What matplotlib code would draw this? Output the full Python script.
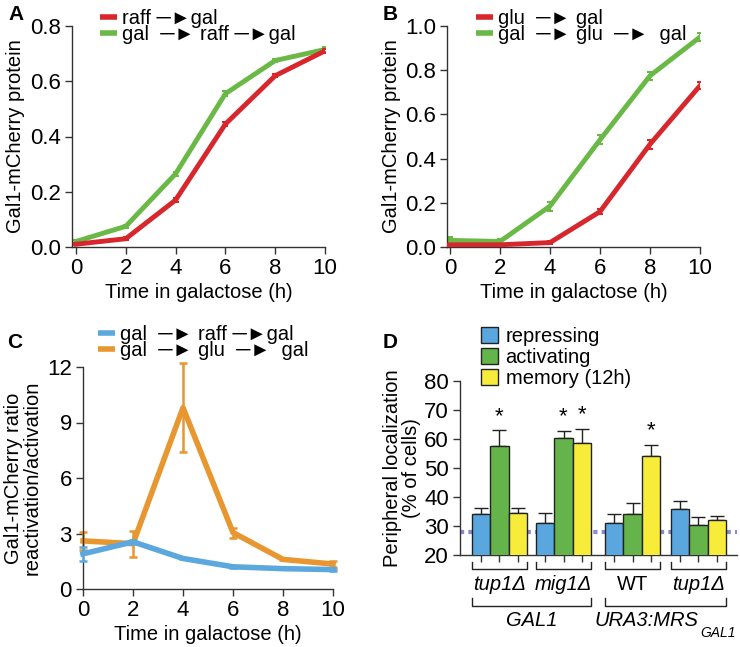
import matplotlib
matplotlib.use("Agg")
import matplotlib.pyplot as plt
import numpy as np

plt.rcParams["font.family"] = ["Liberation Sans", "DejaVu Sans"]
plt.rcParams["font.size"] = 14

W, H = 740, 647
ARROW = "\u2500\u25ba"

# panel A / B : Gal1-mCherry protein
TIME = [0, 2, 4, 6, 8, 10]
A_RAFF_GAL = [0.01, 0.03, 0.17, 0.445, 0.62, 0.71]
A_RAFF_GAL_ERR = [0.004, 0.005, 0.008, 0.008, 0.006, 0.008]
A_GAL_RAFF_GAL = [0.02, 0.075, 0.265, 0.555, 0.675, 0.715]
A_GAL_RAFF_GAL_ERR = [0.006, 0.005, 0.008, 0.008, 0.006, 0.01]

B_GLU_GAL = [0.01, 0.01, 0.02, 0.16, 0.465, 0.73]
B_GLU_GAL_ERR = [0.005, 0.005, 0.006, 0.012, 0.02, 0.015]
B_GAL_GLU_GAL = [0.03, 0.025, 0.185, 0.485, 0.775, 0.95]
B_GAL_GLU_GAL_ERR = [0.015, 0.01, 0.02, 0.02, 0.018, 0.02]

# panel C : reactivation/activation ratio
C_GAL_RAFF_GAL = [1.9, 2.55, 1.65, 1.2, 1.1, 1.05]
C_GAL_RAFF_GAL_ERR = [0.38, 0.1, 0.05, 0.04, 0.03, 0.05]
C_GAL_GLU_GAL = [2.6, 2.45, 9.8, 3.05, 1.6, 1.35]
C_GAL_GLU_GAL_ERR = [0.5, 0.7, 2.4, 0.27, 0.05, 0.15]

# panel D : peripheral localization
D_GROUPS = ["tup1\u0394", "mig1\u0394", "WT", "tup1\u0394"]
D_GROUP_ITALIC = [True, True, False, True]
D_CONDITIONS = ["repressing", "activating", "memory (12h)"]
D_VALUES = {
    "repressing": [34.0, 31.2, 31.2, 35.8],
    "activating": [57.7, 60.5, 34.0, 30.3],
    "memory (12h)": [34.6, 58.6, 54.2, 32.0],
}
D_ERR = {
    "repressing": [2.2, 3.3, 2.9, 2.7],
    "activating": [5.3, 2.3, 3.8, 2.8],
    "memory (12h)": [1.5, 5.0, 3.7, 1.4],
}
D_STARS = [(0, "activating"), (1, "activating"), (1, "memory (12h)"), (2, "memory (12h)")]
D_BASELINE = 28

RED, GREEN = "#d8262d", "#6ab845"
BLUE_C, ORANGE = "#5aa8de", "#e8962f"
D_COLORS = {"repressing": "#5aa7e0", "activating": "#64b44b", "memory (12h)": "#f8ec3a"}

TICK_FS = 16
LABEL_FS = 14.5


def px_axes(left, top, right, bottom):
    return fig.add_axes([left / W, 1 - bottom / H, (right - left) / W, (bottom - top) / H])


def style(ax):
    for s in ["top", "right"]:
        ax.spines[s].set_visible(False)
    for s in ["left", "bottom"]:
        ax.spines[s].set_linewidth(1.0)
        ax.spines[s].set_color("#333333")
    ax.tick_params(direction="out", length=5, width=1, color="#333333", pad=3, labelsize=TICK_FS)


def line_legend(ax, x0, rows, top_px, bottom_px, left_px, right_px):
    # rows: (color, label, handle center y px, baseline y px)
    to_ax_x = lambda p: (p - left_px) / (right_px - left_px)
    to_ax_y = lambda p: (bottom_px - p) / (bottom_px - top_px)
    for color, label, yc, yb in rows:
        ax.plot([to_ax_x(x0), to_ax_x(x0 + 17)], [to_ax_y(yc)] * 2, color=color, lw=4,
                solid_capstyle="butt", transform=ax.transAxes, clip_on=False)
        ax.text(to_ax_x(x0 + 22), to_ax_y(yb), label, transform=ax.transAxes,
                fontsize=LABEL_FS, va="baseline", ha="left")


def protein_panel(ax, s1, e1, s2, e2, ymax, yticks):
    ax.errorbar(TIME, s1, yerr=e1, color=RED, lw=3.5, capsize=2.5, capthick=1.5, elinewidth=1.5, zorder=3)
    ax.errorbar(TIME, s2, yerr=e2, color=GREEN, lw=3.5, capsize=2.5, capthick=1.5, elinewidth=1.5, zorder=2)
    ax.set_ylim(0, ymax)
    ax.set_yticks(yticks)
    ax.set_yticklabels([f"{v:.1f}" for v in yticks])
    ax.set_xticks(TIME)
    style(ax)
    ax.set_xlabel("Time in galactose (h)", fontsize=LABEL_FS)
    ax.xaxis.set_label_coords(0.5, -46 / 221)
    ax.xaxis.label.set_va("center")
    ax.set_ylabel("Gal1-mCherry protein", fontsize=LABEL_FS)
    ax.yaxis.set_label_coords(-56 / 253, 0.5)
    ax.yaxis.label.set_va("center")


fig = plt.figure(figsize=(W / 100, H / 100), dpi=100)

# ---- A
axA = px_axes(72, 26, 325, 247)
protein_panel(axA, A_RAFF_GAL, A_RAFF_GAL_ERR, A_GAL_RAFF_GAL, A_GAL_RAFF_GAL_ERR, 0.8, [0, 0.2, 0.4, 0.6, 0.8])
axA.set_xlim(-0.16, 10)
line_legend(axA, 100, [(RED, "raff " + ARROW + "gal", 17, 24),
                       (GREEN, "gal  " + ARROW + " raff " + ARROW + "gal", 33, 40.5)], 26, 247, 72, 325)

# ---- B
axB = px_axes(447, 26, 700, 247)
protein_panel(axB, B_GLU_GAL, B_GLU_GAL_ERR, B_GAL_GLU_GAL, B_GAL_GLU_GAL_ERR, 1.0, [0, 0.2, 0.4, 0.6, 0.8, 1.0])
axB.set_xlim(-0.12, 10)
line_legend(axB, 476, [(RED, "glu  " + ARROW + " gal", 17, 24),
                       (GREEN, "gal  " + ARROW + " glu  " + ARROW + "  gal", 33, 40.5)], 26, 247, 447, 700)

# ---- C
axC = px_axes(83, 367, 333, 589)
axC.errorbar(TIME, C_GAL_RAFF_GAL, yerr=C_GAL_RAFF_GAL_ERR, color=BLUE_C, lw=4, capsize=3,
             capthick=1.8, elinewidth=1.8, zorder=3, clip_on=False)
axC.errorbar(TIME, C_GAL_GLU_GAL, yerr=C_GAL_GLU_GAL_ERR, color=ORANGE, lw=4, capsize=3,
             capthick=1.8, elinewidth=1.8, zorder=2, clip_on=False)
axC.set_xlim(0, 10)
axC.set_ylim(0, 12)
axC.set_yticks([0, 3, 6, 9, 12])
axC.set_xticks(TIME)
style(axC)
axC.set_xlabel("Time in galactose (h)", fontsize=LABEL_FS)
axC.xaxis.set_label_coords(0.5, -45 / 222)
axC.xaxis.label.set_va("center")
axC.set_ylabel("Gal1-mCherry ratio\nreactivation/activation", fontsize=LABEL_FS, linespacing=1.0)
axC.yaxis.set_label_coords(-60 / 250, 0.5)
axC.yaxis.label.set_va("center")
line_legend(axC, 98, [(BLUE_C, "gal  " + ARROW + " raff " + ARROW + "gal", 333, 340),
                      (ORANGE, "gal  " + ARROW + " glu  " + ARROW + "  gal", 349, 356)], 367, 589, 83, 333)

# ---- D
axD = px_axes(460, 381, 737, 555)
group_pos = np.array([0, 3.48, 7.23, 10.8])
for k, cond in enumerate(D_CONDITIONS):
    xs = group_pos + k
    axD.bar(xs, D_VALUES[cond], width=1.0, bottom=0, color=D_COLORS[cond], edgecolor="#222222",
            linewidth=1.0, label=cond, zorder=3)
    axD.errorbar(xs, D_VALUES[cond], yerr=[np.zeros(4), D_ERR[cond]], fmt="none", ecolor="#222222",
                 elinewidth=1.0, capsize=5, capthick=1.0, zorder=2)
for g, cond in D_STARS:
    k = D_CONDITIONS.index(cond)
    axD.text(group_pos[g] + k, D_VALUES[cond][g] + D_ERR[cond][g] + 1.2, "*", ha="center",
             va="bottom", fontsize=16)
axD.axhline(D_BASELINE, color="#8a8ad0", lw=3, ls=(0, (1, 1)), zorder=1)
axD.set_xlim(-1.14, 13.9)
axD.set_ylim(20, 80)
axD.set_yticks([20, 30, 40, 50, 60, 70, 80])
axD.set_xticks(np.concatenate([group_pos + k for k in range(3)]))
axD.set_xticklabels([])
style(axD)
axD.set_ylabel("Peripheral localization\n(% of cells)", fontsize=LABEL_FS, linespacing=1.0)
axD.yaxis.set_label_coords(-58 / 277, 0.5)
axD.yaxis.label.set_va("center")
axD.legend(loc="upper left", bbox_to_anchor=((481 - 460) / 277, (555 - 327) / 174), frameon=False,
           fontsize=LABEL_FS, handlelength=0.82, handleheight=0.82, labelspacing=0.1, handletextpad=0.4,
           borderpad=0, borderaxespad=0)

tr = axD.get_xaxis_transform()


def bracket(x0, x1, y_line, y_top):
    axD.plot([x0, x0, x1, x1], [y_top, y_line, y_line, y_top], color="#222222", lw=1.0,
             transform=tr, clip_on=False)


for g, name in enumerate(D_GROUPS):
    bracket(group_pos[g] - 0.5, group_pos[g] + 2.5, -14 / 174, -7 / 174)
    axD.text(group_pos[g] + 1, -30 / 174, name, transform=tr, ha="center", va="center",
             fontsize=LABEL_FS, style="italic" if D_GROUP_ITALIC[g] else "normal")
bracket(group_pos[0] - 0.5, group_pos[1] + 2.5, -51 / 174, -43 / 174)
bracket(group_pos[2] - 0.5, group_pos[3] + 2.5, -51 / 174, -43 / 174)
axD.text((group_pos[0] + group_pos[1] + 2) / 2, -65 / 174, "GAL1", transform=tr, ha="center",
         va="center", fontsize=LABEL_FS, style="italic")
axD.text((698 - 481) / 18.4, -65 / 174, "URA3:MRS", transform=tr, ha="right", va="center",
         fontsize=LABEL_FS, style="italic")
axD.text((700 - 481) / 18.4, -78 / 174, "GAL1", transform=tr, ha="left", va="center",
         fontsize=10, style="italic")

# panel letters
for letter, x, y in [("A", 8, 15), ("B", 383, 15), ("C", 7, 343), ("D", 383, 343)]:
    fig.text(x / W, 1 - y / H, letter, fontsize=15, fontweight="bold", ha="left", va="center")

fig.savefig("out.png", dpi=100)
